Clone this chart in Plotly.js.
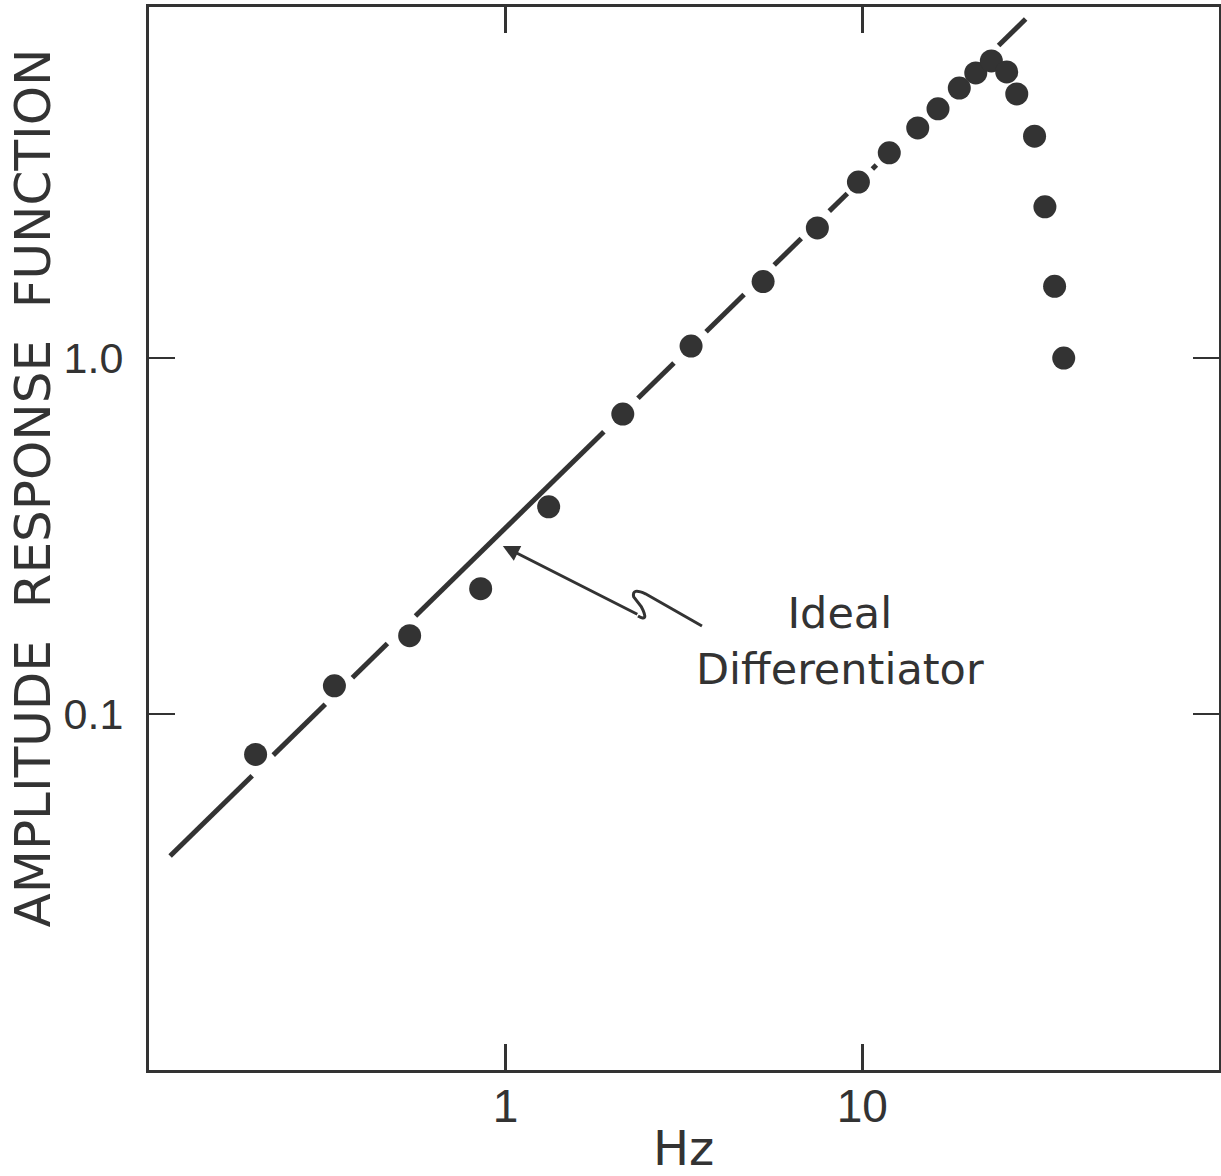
<!DOCTYPE html>
<html>
<head>
<meta charset="utf-8">
<script src="https://cdn.plot.ly/plotly-3.0.1.min.js"></script>
<style>
  html, body { margin: 0; padding: 0; background: #ffffff; }
  #chart { width: 1221px; height: 1176px; }
</style>
</head>
<body>
<div id="chart"></div>
<script>
// Measured amplitude response (Hz vs. amplitude)
const freqHz = [0.199, 0.331, 0.538, 0.851, 1.32, 2.13, 3.31, 5.27, 7.48, 9.75, 11.9,
                14.3, 16.3, 18.7, 20.8, 23.0, 25.4, 27.1, 30.4, 32.5, 34.6, 36.7];
const amplitude = [0.077, 0.120, 0.166, 0.225, 0.382, 0.696, 1.08, 1.64, 2.32, 3.12, 3.77,
                   4.43, 5.01, 5.73, 6.32, 6.83, 6.36, 5.52, 4.20, 2.66, 1.59, 1.00];

// Ideal differentiator: end points of the straight line
const idealFreqEnds = [0.1146, 28.7];
const idealAmpEnds = [0.0399, 8.96];
// Pen-down stretches of the ideal line (Hz), broken where the points sit
const idealDashFrom = [0.1146, 0.2230, 0.3717, 0.5586, 2.349, 3.646, 5.660, 8.078, 10.67, 24.10];
const idealDashTo   = [0.1947, 0.3121, 0.4661, 1.885, 2.964, 4.661, 6.742, 9.077, 10.95, 28.7];

// Tick labels
const xTickVals = [1, 10];
const xTickText = ['1', '10'];
const yTickVals = [0.1, 1];
const yTickText = ['0.1', '1.0'];

const ink = '#333333';
const font = 'DejaVu Sans, Liberation Sans, sans-serif';
const narrowFont = 'Liberation Sans Narrow, Liberation Sans, sans-serif';

// amplitude on the ideal line at frequency f (straight in log-log)
function idealAt(f) {
  const lf0 = Math.log10(idealFreqEnds[0]), lf1 = Math.log10(idealFreqEnds[1]);
  const la0 = Math.log10(idealAmpEnds[0]), la1 = Math.log10(idealAmpEnds[1]);
  const t = (Math.log10(f) - lf0) / (lf1 - lf0);
  return Math.pow(10, la0 + t * (la1 - la0));
}

const idealX = [], idealY = [];
idealDashFrom.forEach((f0, i) => {
  const f1 = idealDashTo[i];
  idealX.push(f0, f1, null);
  idealY.push(idealAt(f0), idealAt(f1), null);
});

const traces = [
  {
    x: idealX, y: idealY, mode: 'lines', type: 'scatter',
    line: { color: ink, width: 5 },
    connectgaps: false, hoverinfo: 'skip', showlegend: false
  },
  {
    x: freqHz, y: amplitude, mode: 'markers', type: 'scatter',
    marker: { color: ink, size: 23, line: { width: 0 } },
    showlegend: false
  }
];

const axisCommon = {
  type: 'log',
  showline: true, linewidth: 3, linecolor: ink,
  mirror: 'allticks',
  ticks: 'inside', ticklen: 26, tickwidth: 2.5, tickcolor: ink,
  showgrid: false, zeroline: false
};

const layout = {
  width: 1221, height: 1176,
  margin: { l: 149, r: 2, t: 7, b: 106 },
  paper_bgcolor: '#ffffff', plot_bgcolor: '#ffffff',
  showlegend: false,
  xaxis: Object.assign({}, axisCommon, {
    range: [-1, 2],
    tickmode: 'array', tickvals: xTickVals, ticktext: xTickText,
    tickfont: { family: narrowFont, size: 46, color: ink },
    ticklabelstandoff: -6
  }),
  yaxis: Object.assign({}, axisCommon, {
    range: [-2, 0.986],
    tickmode: 'array', tickvals: yTickVals, ticktext: yTickText,
    tickfont: { family: narrowFont, size: 43, color: ink },
    ticklabelstandoff: 14
  }),
  annotations: [
    {
      text: 'AMPLITUDE  RESPONSE  FUNCTION', textangle: -90,
      xref: 'paper', yref: 'paper', x: -0.1075, y: 0.548,
      xanchor: 'center', yanchor: 'middle', showarrow: false,
      font: { family: font, size: 50, color: ink }
    },
    {
      text: 'Hz',
      xref: 'paper', yref: 'paper', x: 0.4995, y: -0.0735,
      xanchor: 'center', yanchor: 'middle', showarrow: false,
      font: { family: font, size: 48, color: ink }
    },
    {
      text: 'Ideal<br>Differentiator',
      xref: 'paper', yref: 'paper', x: 0.6458, y: 0.4036,
      xanchor: 'center', yanchor: 'middle', align: 'center', showarrow: false,
      font: { family: font, size: 43, color: ink }
    },
    {
      // pointer onto the ideal line (log axes take log10 positions)
      text: '', xref: 'x', yref: 'y', x: -0.008, y: -0.528,
      showarrow: true, arrowhead: 2, arrowsize: 1.1, arrowwidth: 3,
      arrowcolor: ink, standoff: 0, ax: 136, ay: 69
    }
  ],
  shapes: [
    {
      // zig-zag tail of the pointer
      type: 'path', xref: 'paper', yref: 'paper',
      path: 'M 0.4570 0.4271 Q 0.4680 0.4205 0.4600 0.4360 L 0.4530 0.4450 ' +
            'Q 0.4510 0.4540 0.4640 0.4480 L 0.5168 0.4177',
      line: { color: ink, width: 3 }
    }
  ]
};

Plotly.newPlot('chart', traces, layout, { staticPlot: true });
</script>
</body>
</html>
